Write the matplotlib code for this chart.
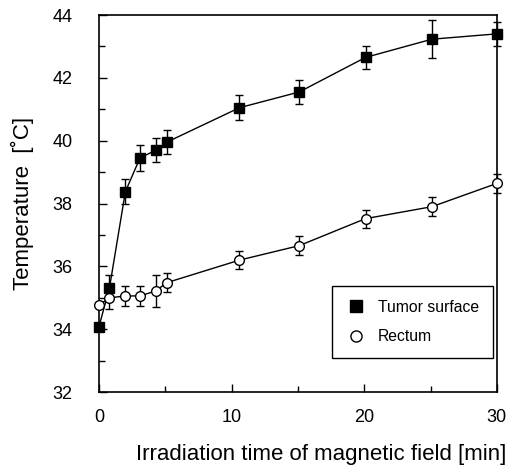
import matplotlib
matplotlib.use("Agg")
import matplotlib.pyplot as plt
from matplotlib.ticker import MultipleLocator
from matplotlib.lines import Line2D

plt.rcParams['font.family'] = ['Liberation Sans', 'DejaVu Sans']

# time points [min]
time_pts = [0, 0.8, 2.0, 3.1, 4.3, 5.1, 10.6, 15.1, 20.1, 25.1, 30.0]

# tumor surface temperature and error
tumor = [34.07, 35.32, 38.38, 39.45, 39.7, 39.95, 41.05, 41.55, 42.65, 43.23, 43.4]
tumor_err = [0.0, 0.4, 0.4, 0.4, 0.38, 0.38, 0.39, 0.38, 0.37, 0.6, 0.39]

# rectum temperature and error
rectum = [34.77, 35.0, 35.06, 35.06, 35.22, 35.48, 36.2, 36.66, 37.52, 37.9, 38.64]
rectum_err = [0.0, 0.35, 0.31, 0.31, 0.52, 0.3, 0.29, 0.3, 0.29, 0.3, 0.3]

fig = plt.figure(figsize=(5.07, 4.69), dpi=100)
ax = fig.add_axes([0.195, 0.164, 0.785, 0.804])

ax.errorbar(time_pts, tumor, yerr=tumor_err, fmt='-s', color='black', mfc='black',
            ms=7.5, lw=1, elinewidth=1, capsize=3, capthick=1, clip_on=False,
            zorder=3)
ax.errorbar(time_pts, rectum, yerr=rectum_err, fmt='-o', color='black', mfc='white',
            ms=7, lw=1, elinewidth=1, capsize=3, capthick=1, clip_on=False,
            zorder=3)

ax.set_xlim(0, 30)
ax.set_ylim(32, 44)
ax.xaxis.set_major_locator(MultipleLocator(10))
ax.xaxis.set_minor_locator(MultipleLocator(5))
ax.yaxis.set_major_locator(MultipleLocator(2))
ax.yaxis.set_minor_locator(MultipleLocator(1))
ax.tick_params(which='both', direction='in', labelsize=13)
ax.tick_params(which='major', length=6, width=1)
ax.tick_params(which='minor', length=4, width=1)
ax.tick_params(axis='x', pad=12)
ax.tick_params(axis='y', pad=19)
for s in ax.spines.values():
    s.set_linewidth(1.2)

ax.set_xlabel('Irradiation time of magnetic field [min]', fontsize=16, labelpad=13)
ax.xaxis.label.set_x(0.558)  # label sits right of centre in the original
ax.set_ylabel('Temperature  [˚C]', fontsize=16, labelpad=13)

# legend: markers only
handles = [Line2D([], [], ls='none', marker='s', color='black', mfc='black', ms=9),
           Line2D([], [], ls='none', marker='o', color='black', mfc='white', ms=8)]
leg = ax.legend(handles, ['Tumor surface', 'Rectum'], loc='lower right',
                bbox_to_anchor=(0.99, 0.09), fancybox=False, edgecolor='black',
                framealpha=1, fontsize=11.3, handlelength=1.2, handletextpad=0.8,
                borderpad=0.9, labelspacing=0.9, borderaxespad=0)
leg.get_frame().set_linewidth(1)

fig.savefig('out.png', dpi=100)
